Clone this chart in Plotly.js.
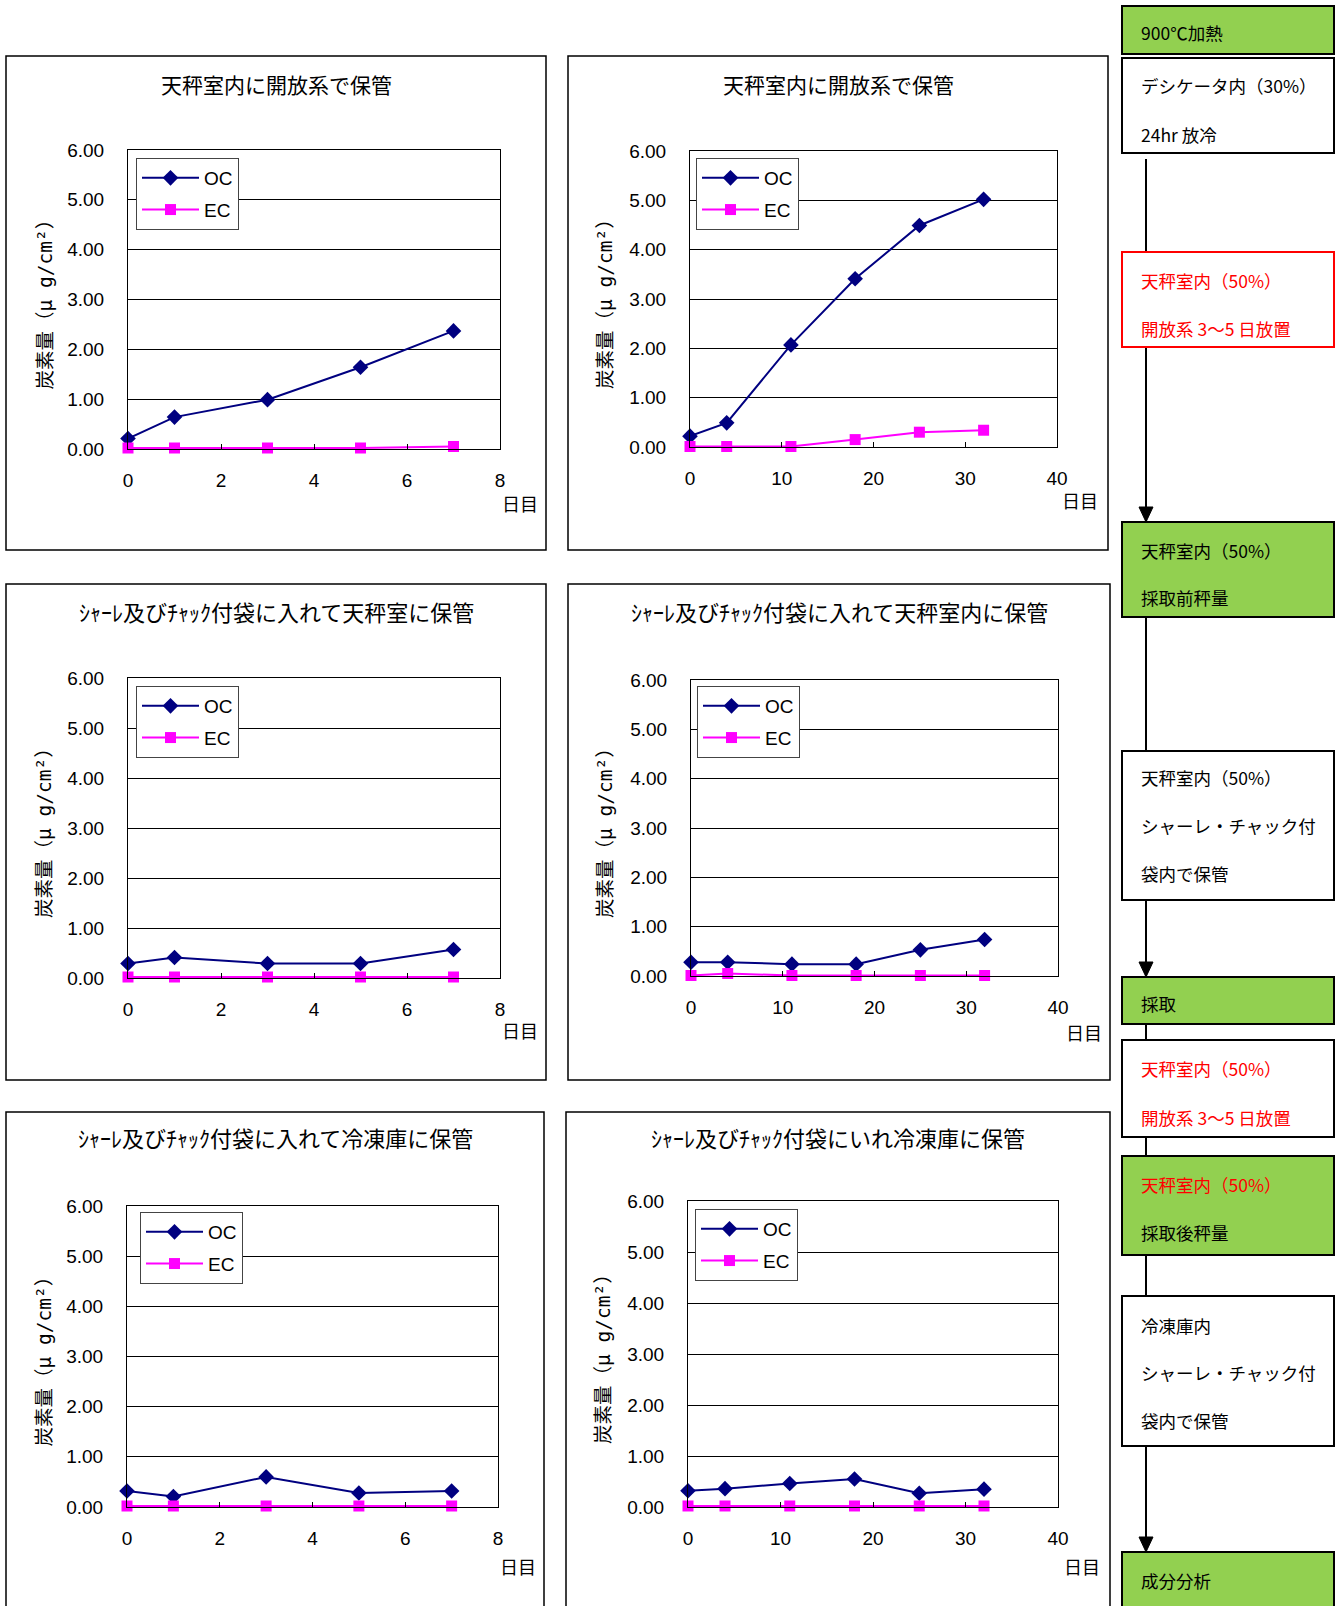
<!DOCTYPE html>
<html>
<head>
<meta charset="utf-8">
<script src="https://cdn.plot.ly/plotly-3.0.1.min.js"></script>
<style>html,body{margin:0;padding:0;background:#fff;}#chart{width:1341px;height:1606px;}</style>
</head>
<body>
<div id="chart"></div>
<script>
// ---- data ----
const days7 = [0, 1, 3, 5, 7];
const days32 = [0, 4, 11, 18, 25, 32];

const ocOpen7 = [0.21, 0.64, 0.99, 1.64, 2.37];
const ecOpen7 = [0.02, 0.02, 0.02, 0.02, 0.05];
const ocOpen32 = [0.22, 0.49, 2.07, 3.41, 4.49, 5.02];
const ecOpen32 = [0.01, 0.01, 0.01, 0.15, 0.30, 0.34];
const ocBag7 = [0.29, 0.41, 0.29, 0.29, 0.57];
const ecBag7 = [0.02, 0.02, 0.02, 0.02, 0.02];
const ocBag32 = [0.28, 0.28, 0.24, 0.24, 0.53, 0.74];
const ecBag32 = [0.01, 0.05, 0.01, 0.01, 0.01, 0.01];
const ocFrz7 = [0.32, 0.21, 0.60, 0.28, 0.32];
const ecFrz7 = [0.02, 0.02, 0.02, 0.02, 0.02];
const ocFrz32 = [0.32, 0.36, 0.46, 0.55, 0.27, 0.35];
const ecFrz32 = [0.02, 0.02, 0.02, 0.02, 0.02, 0.02];

const seriesNames = ['OC', 'EC'];
const chartTitles = [
  '天秤室内に開放系で保管',
  '天秤室内に開放系で保管',
  'ｼｬｰﾚ及びﾁｬｯｸ付袋に入れて天秤室に保管',
  'ｼｬｰﾚ及びﾁｬｯｸ付袋に入れて天秤室内に保管',
  'ｼｬｰﾚ及びﾁｬｯｸ付袋に入れて冷凍庫に保管',
  'ｼｬｰﾚ及びﾁｬｯｸ付袋にいれ冷凍庫に保管'
];
const yTitle = '炭素量（<span style="font-family:DejaVu Sans Mono">μ g/cm²</span>）';
const xUnit = '日目';

const flowTexts = [
  ['900℃加熱'],
  ['デシケータ内（30%）', '24hr 放冷'],
  ['天秤室内（50%）', '開放系 3～5 日放置'],
  ['天秤室内（50%）', '採取前秤量'],
  ['天秤室内（50%）', 'シャーレ・チャック付', '袋内で保管'],
  ['採取'],
  ['天秤室内（50%）', '開放系 3～5 日放置'],
  ['天秤室内（50%）', '採取後秤量'],
  ['冷凍庫内', 'シャーレ・チャック付', '袋内で保管'],
  ['成分分析']
];

// ---- layout geometry (pixels) ----
const W = 1341, H = 1606;
const px = v => v / W;
const py = v => 1 - v / H;

const panels = [
  {x: days7,  oc: ocOpen7,  ec: ecOpen7,  xmax: 8,  dt: 2,  plot: [128, 500, 150, 449], frame: [6, 546, 56, 550],   tY: 84,   tS: 21, leg: [136, 158], yt: 43,  unit: [520, 503]},
  {x: days32, oc: ocOpen32, ec: ecOpen32, xmax: 40, dt: 10, plot: [690, 1057, 151, 447], frame: [568, 1108, 56, 550], tY: 84,   tS: 21, leg: [696, 158], yt: 604, unit: [1080, 500]},
  {x: days7,  oc: ocBag7,   ec: ecBag7,   xmax: 8,  dt: 2,  plot: [128, 500, 678, 978], frame: [6, 546, 584, 1080],  tY: 611,  tS: 22, leg: [136, 686], yt: 43,  unit: [520, 1030]},
  {x: days32, oc: ocBag32,  ec: ecBag32,  xmax: 40, dt: 10, plot: [691, 1058, 680, 976], frame: [568, 1110, 584, 1080], tY: 611, tS: 22, leg: [697, 686], yt: 604, unit: [1084, 1032]},
  {x: days7,  oc: ocFrz7,   ec: ecFrz7,   xmax: 8,  dt: 2,  plot: [127, 498, 1206, 1507], frame: [6, 544, 1112, 1620], tY: 1137, tS: 22, leg: [140, 1212], yt: 42, unit: [518, 1566]},
  {x: days32, oc: ocFrz32,  ec: ecFrz32,  xmax: 40, dt: 10, plot: [688, 1058, 1201, 1507], frame: [566, 1110, 1112, 1620], tY: 1137, tS: 22, leg: [695, 1209], yt: 601, unit: [1082, 1566]}
];

const tickFont = {family: 'Liberation Sans, Arial, sans-serif', size: 19, color: '#000'};
const jpFont = 'Noto Sans CJK JP, sans-serif';

const data = [];
const layout = {
  width: W, height: H,
  margin: {l: 0, r: 0, t: 0, b: 0},
  paper_bgcolor: '#fff', plot_bgcolor: '#fff',
  shapes: [], annotations: [],
  font: {family: 'Liberation Sans, Arial, sans-serif', color: '#000'}
};

panels.forEach((p, i) => {
  const n = i === 0 ? '' : String(i + 1);
  const legId = 'legend' + n;
  data.push({
    x: p.x, y: p.oc, name: seriesNames[0], type: 'scatter', mode: 'lines+markers',
    xaxis: 'x' + n, yaxis: 'y' + n, legend: legId, legendgroup: 'oc' + n, cliponaxis: false,
    line: {color: '#000080', width: 2},
    marker: {symbol: 'diamond', size: 12, color: '#000080'}
  });
  data.push({
    x: p.x, y: p.ec, name: seriesNames[1], type: 'scatter', mode: 'lines+markers',
    xaxis: 'x' + n, yaxis: 'y' + n, legend: legId, legendgroup: 'ec' + n, cliponaxis: false,
    line: {color: '#FF00FF', width: 2},
    marker: {symbol: 'square', size: 11, color: '#FF00FF'}
  });
  layout['xaxis' + n] = {
    domain: [px(p.plot[0]), px(p.plot[1])], anchor: 'y' + n,
    range: [0, p.xmax], tick0: 0, dtick: p.dt,
    ticks: 'inside', ticklen: 5, tickcolor: '#000', tickwidth: 1,
    showline: true, mirror: true, linecolor: '#000', linewidth: 1,
    showgrid: false, zeroline: false, tickfont: tickFont, ticklabelstandoff: 14,
    fixedrange: true
  };
  layout['yaxis' + n] = {
    domain: [py(p.plot[3]), py(p.plot[2])], anchor: 'x' + n,
    range: [0, 6], tick0: 0, dtick: 1, tickformat: '.2f',
    ticks: '', showline: true, mirror: true, linecolor: '#000', linewidth: 1,
    showgrid: true, gridcolor: '#000', gridwidth: 1, zeroline: false,
    tickfont: tickFont, ticklabelstandoff: 19, fixedrange: true
  };
  layout[legId] = {
    x: px(p.leg[0]), y: py(p.leg[1]), xanchor: 'left', yanchor: 'top',
    bgcolor: '#fff', bordercolor: '#444', borderwidth: 1,
    font: {family: 'Liberation Sans, Arial, sans-serif', size: 19, color: '#000'},
    itemwidth: 57, tracegroupgap: 4
  };
  // frame
  layout.shapes.push({type: 'rect', xref: 'paper', yref: 'paper',
    x0: px(p.frame[0]), x1: px(p.frame[1]), y0: py(p.frame[2]), y1: py(p.frame[3]),
    line: {color: '#000', width: 1.5}, fillcolor: 'rgba(0,0,0,0)'});
  // chart title
  layout.annotations.push({xref: 'paper', yref: 'paper', x: px((p.frame[0] + p.frame[1]) / 2), y: py(p.tY),
    xanchor: 'center', yanchor: 'middle', showarrow: false, text: chartTitles[i],
    font: {family: jpFont, size: p.tS, color: '#000'}});
  // y title
  layout.annotations.push({xref: 'paper', yref: 'paper', x: px(p.yt), y: py((p.plot[2] + p.plot[3]) / 2),
    xanchor: 'center', yanchor: 'middle', showarrow: false, textangle: -90, text: yTitle,
    font: {family: jpFont, size: 19.5, color: '#000'}});
  // x unit
  layout.annotations.push({xref: 'paper', yref: 'paper', x: px(p.unit[0]), y: py(p.unit[1]),
    xanchor: 'center', yanchor: 'middle', showarrow: false, text: xUnit,
    font: {family: jpFont, size: 18, color: '#000'}});
});

// ---- flowchart ----
const bx0 = 1122, bx1 = 1334, lineX = 1146;
const GREEN = '#92D050', RED = '#FF0000';
layout.shapes.push({type: 'line', xref: 'paper', yref: 'paper', x0: px(lineX), x1: px(lineX), y0: py(159), y1: py(1540),
  line: {color: '#000', width: 2}});
const arrowTips = [522, 977, 1552];
arrowTips.forEach(t => {
  layout.shapes.push({type: 'path', xref: 'paper', yref: 'paper',
    path: `M ${px(lineX - 7)} ${py(t - 15)} L ${px(lineX + 7)} ${py(t - 15)} L ${px(lineX)} ${py(t)} Z`,
    fillcolor: '#000', line: {color: '#000', width: 1}});
});
const boxes = [
  {y: [6, 54], fill: GREEN, border: '#000', lines: [33], colors: ['#000']},
  {y: [58, 153], fill: '#fff', border: '#000', lines: [86, 134], colors: ['#000', '#000']},
  {y: [252, 347], fill: '#fff', border: RED, lines: [280, 328], colors: [RED, RED]},
  {y: [522, 617], fill: GREEN, border: '#000', lines: [550, 598], colors: ['#000', '#000']},
  {y: [751, 900], fill: '#fff', border: '#000', lines: [778, 826, 874], colors: ['#000', '#000', '#000']},
  {y: [977, 1024], fill: GREEN, border: '#000', lines: [1004], colors: ['#000']},
  {y: [1040, 1137], fill: '#fff', border: '#000', lines: [1068, 1117], colors: [RED, RED]},
  {y: [1156, 1255], fill: GREEN, border: '#000', lines: [1184, 1232], colors: [RED, '#000']},
  {y: [1296, 1446], fill: '#fff', border: '#000', lines: [1325, 1372, 1420], colors: ['#000', '#000', '#000']},
  {y: [1552, 1620], fill: GREEN, border: '#000', lines: [1580], colors: ['#000']}
];
boxes.forEach((b, i) => {
  layout.shapes.push({type: 'rect', xref: 'paper', yref: 'paper',
    x0: px(bx0), x1: px(bx1), y0: py(b.y[0]), y1: py(b.y[1]),
    fillcolor: b.fill, line: {color: b.border, width: 2}});
  flowTexts[i].forEach((t, j) => {
    layout.annotations.push({xref: 'paper', yref: 'paper', x: px(1139), y: py(b.lines[j]),
      xanchor: 'left', yanchor: 'middle', showarrow: false, text: t,
      font: {family: jpFont, size: 17.5, color: b.colors[j]}});
  });
});

Plotly.newPlot('chart', data, layout, {staticPlot: true, displayModeBar: false});
</script>
</body>
</html>
